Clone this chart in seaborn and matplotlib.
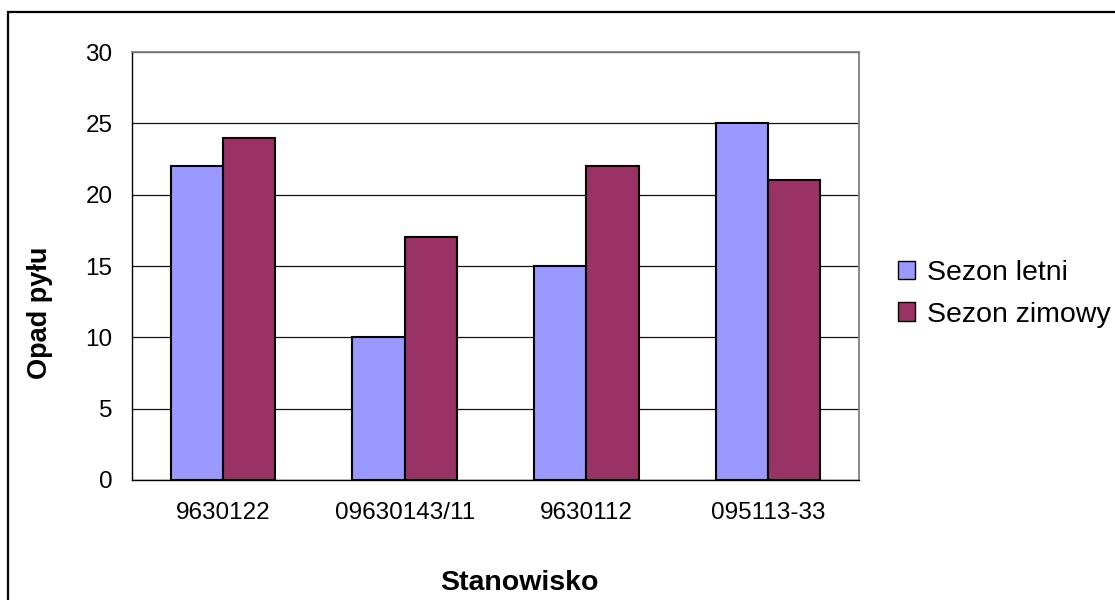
import matplotlib
matplotlib.use("Agg")
import matplotlib.pyplot as plt
from matplotlib.patches import Rectangle, Patch
import numpy as np
import pandas as pd
import seaborn as sns

# Dust deposition per measuring station, summer vs winter season
stations = ["9630122", "09630143/11", "9630112", "095113-33"]
summer = [22, 10, 15, 25]
winter = [24, 17, 22, 21]
season_names = ["Sezon letni", "Sezon zimowy"]
season_colors = ["#9999FF", "#993366"]
y_ticks = [0, 5, 10, 15, 20, 25, 30]

df = pd.DataFrame({
    "Stanowisko": stations * 2,
    "Opad": summer + winter,
    "Sezon": [season_names[0]] * len(stations) + [season_names[1]] * len(stations),
})

sns.set_theme(style="white")
plt.rcParams["font.family"] = ["Liberation Sans", "DejaVu Sans"]

fig = plt.figure(figsize=(11.15, 6), dpi=100)
ax = fig.add_axes([0.1184, 0.2, 0.652, 0.7133])

sns.barplot(data=df, x="Stanowisko", y="Opad", hue="Sezon", order=stations,
            hue_order=season_names, palette=season_colors, width=0.575,
            edgecolor="black", linewidth=1.5, saturation=1, ax=ax, legend=False,
            zorder=3)

ax.set_xlim(-0.5, len(stations) - 0.5)
ax.set_ylim(0, 30)
ax.set_yticks(y_ticks)
ax.yaxis.grid(True, color="#111111", linewidth=0.9, zorder=0)
ax.set_axisbelow(True)

# category separators as ticks, labels centred without marks
ax.set_xticks(np.arange(len(stations)))
ax.set_xticklabels(stations)
ax.set_xticks(np.arange(-0.5, len(stations)), minor=True)
ax.tick_params(axis="x", which="major", length=0, pad=16, labelsize=17.5)
ax.tick_params(axis="x", which="minor", length=7, width=1, color="black", direction="out")
ax.tick_params(axis="y", length=7, width=1, color="black", direction="out", pad=7, labelsize=17.5)
ax.tick_params(axis="both", labelcolor="black")

for side in ["left", "bottom"]:
    ax.spines[side].set_color("black")
    ax.spines[side].set_linewidth(1.0)
for side in ["top", "right"]:
    ax.spines[side].set_color("#808080")
    ax.spines[side].set_linewidth(1.3)

ax.set_xlabel("")
ax.set_ylabel("")
fig.text(0.466, 0.0167, "Stanowisko", ha="center", va="baseline",
         fontsize=20.5, fontweight="bold", color="black")
fig.text(0.036, 0.478, "Opad pyłu", ha="center", va="center",
         rotation=90, fontsize=19.5, fontweight="bold", color="black")

handles = [Patch(facecolor=c, edgecolor="black", linewidth=1.0) for c in season_colors]
fig.legend(handles, season_names, loc="center left", bbox_to_anchor=(0.8054, 0.51),
           frameon=False, fontsize=20.5, handlelength=0.6, handleheight=0.63,
           handletextpad=0.42, labelspacing=0.55, borderpad=0, borderaxespad=0,
           labelcolor="black")

# outer chart frame
fig.patches.append(Rectangle((0.0072, -0.1), 1.2, 1.08, transform=fig.transFigure,
                             fill=False, edgecolor="black", linewidth=1.6))

fig.savefig("out.png", dpi=100, facecolor="white")
